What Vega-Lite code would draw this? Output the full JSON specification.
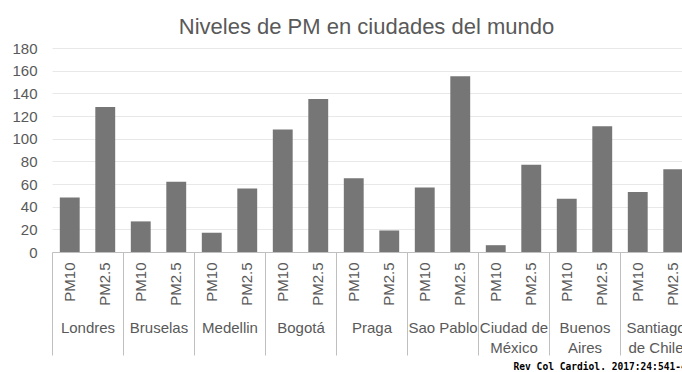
{
  "$schema": "https://vega.github.io/schema/vega-lite/v6.json",
  "autosize": {"type": "none"},
  "width": 639,
  "height": 204,
  "padding": {"left": 52, "top": 48, "right": 0, "bottom": 120},
  "background": "white",
  "data": {
    "values": [
      {"city": "Londres", "pol": "PM10", "id": "Londres|PM10", "val": 48},
      {"city": "Londres", "pol": "PM2.5", "id": "Londres|PM2.5", "val": 128},
      {"city": "Bruselas", "pol": "PM10", "id": "Bruselas|PM10", "val": 27},
      {"city": "Bruselas", "pol": "PM2.5", "id": "Bruselas|PM2.5", "val": 62},
      {"city": "Medellin", "pol": "PM10", "id": "Medellin|PM10", "val": 17},
      {"city": "Medellin", "pol": "PM2.5", "id": "Medellin|PM2.5", "val": 56},
      {"city": "Bogotá", "pol": "PM10", "id": "Bogotá|PM10", "val": 108},
      {"city": "Bogotá", "pol": "PM2.5", "id": "Bogotá|PM2.5", "val": 135},
      {"city": "Praga", "pol": "PM10", "id": "Praga|PM10", "val": 65},
      {"city": "Praga", "pol": "PM2.5", "id": "Praga|PM2.5", "val": 19},
      {"city": "Sao Pablo", "pol": "PM10", "id": "Sao Pablo|PM10", "val": 57},
      {"city": "Sao Pablo", "pol": "PM2.5", "id": "Sao Pablo|PM2.5", "val": 155},
      {"city": "Ciudad de México", "pol": "PM10", "id": "Ciudad de México|PM10", "val": 6},
      {"city": "Ciudad de México", "pol": "PM2.5", "id": "Ciudad de México|PM2.5", "val": 77},
      {"city": "Buenos Aires", "pol": "PM10", "id": "Buenos Aires|PM10", "val": 47},
      {"city": "Buenos Aires", "pol": "PM2.5", "id": "Buenos Aires|PM2.5", "val": 111},
      {"city": "Santiago de Chile", "pol": "PM10", "id": "Santiago de Chile|PM10", "val": 53},
      {"city": "Santiago de Chile", "pol": "PM2.5", "id": "Santiago de Chile|PM2.5", "val": 73}
    ]
  },
  "encoding": {
    "y": {
      "field": "val",
      "type": "quantitative",
      "scale": {"domain": [0, 180], "nice": false},
      "axis": {
        "title": "Niveles de PM en ciudades del mundo",
        "titleFont": "Liberation Sans",
        "titleFontSize": 22,
        "titleFontWeight": "normal",
        "titleColor": "#595959",
        "titleAngle": 0,
        "titleAlign": "center",
        "titleBaseline": "alphabetic",
        "titleX": 314,
        "titleY": -15,
        "values": [0, 20, 40, 60, 80, 100, 120, 140, 160, 180],
        "domain": false,
        "ticks": false,
        "labelPadding": 15,
        "labelFont": "Liberation Sans",
        "labelFontSize": 15,
        "labelColor": "#595959",
        "gridColor": "#e8e8e8",
        "gridWidth": 1
      }
    }
  },
  "layer": [
    {
      "mark": {"type": "bar", "color": "#767676"},
      "encoding": {
        "x": {
          "field": "id",
          "type": "nominal",
          "sort": null,
          "scale": {"paddingInner": 0.44, "paddingOuter": 0.22},
          "axis": {
            "orient": "bottom",
            "title": null,
            "labelExpr": "split(datum.value, '|')[1]",
            "labelAngle": -90,
            "labelPadding": 10,
            "labelFont": "Liberation Sans",
            "labelFontSize": 15,
            "labelColor": "#595959",
            "labelOverlap": false,
            "ticks": false,
            "domainColor": "#bfbfbf",
            "grid": false
          }
        }
      }
    },
    {
      "mark": {"type": "bar", "opacity": 0},
      "encoding": {
        "x": {
          "field": "city",
          "type": "nominal",
          "sort": null,
          "scale": {"paddingInner": 0, "paddingOuter": 0},
          "axis": {
            "orient": "bottom",
            "title": "Rev Col Cardiol. 2017:24:541-4",
            "titleFont": "DejaVu Sans Mono",
            "titleFontSize": 9.6,
            "titleFontWeight": "bold",
            "titleColor": "#000000",
            "titleAlign": "left",
            "titleBaseline": "top",
            "titleX": 461,
            "titleY": 109,
            "labelExpr": "datum.value == 'Ciudad de México' ? ['Ciudad de', 'México'] : datum.value == 'Buenos Aires' ? ['Buenos', 'Aires'] : datum.value == 'Santiago de Chile' ? ['Santiago', 'de Chile'] : datum.value",
            "labelAngle": 0,
            "labelPadding": -35,
            "labelFont": "Liberation Sans",
            "labelFontSize": 15,
            "labelColor": "#595959",
            "labelLineHeight": 20,
            "labelOverlap": false,
            "labelBound": false,
            "labelLimit": 200,
            "domain": false,
            "ticks": true,
            "tickBand": "extent",
            "tickSize": 103,
            "tickColor": "#bfbfbf",
            "tickWidth": 1,
            "grid": false
          }
        }
      }
    }
  ],
  "resolve": {"scale": {"x": "independent"}, "axis": {"x": "independent"}},
  "config": {
    "view": {"stroke": null},
    "font": "Liberation Sans"
  }
}
